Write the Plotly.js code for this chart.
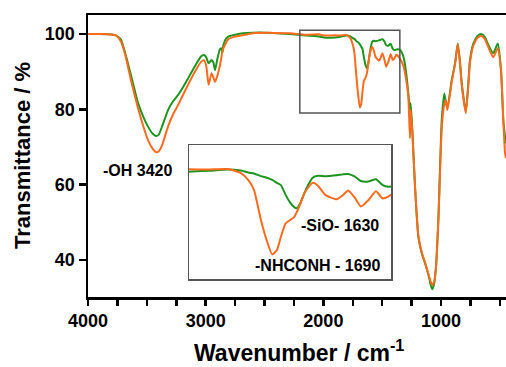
<!DOCTYPE html>
<html>
<head>
<meta charset="utf-8">
<script src="https://cdn.plot.ly/plotly-3.0.1.min.js"></script>
<style>html,body{margin:0;padding:0;background:#fff;}#chart{width:506px;height:367px;}</style>
</head>
<body>
<div id="chart"></div>
<script>
// Wavenumber (cm^-1)
const wavenumber = [4000,3900,3800,3760,3720,3680,3632,3575,3530,3490,3450,3422,3400,3370,3320,3280,3235,3190,3150,3100,3040,3014,2995,2975,2950,2935,2920,2900,2880,2868,2858,2850,2830,2808,2750,2683,2600,2428,2283,2150,2028,2000,1900,1852,1802,1769,1750,1736,1719,1705,1690,1678,1668,1656,1645,1635,1628,1618,1610,1597,1587,1575,1556,1527,1512,1498,1481,1466,1447,1428,1411,1397,1380,1349,1320,1306,1290,1278,1264,1258,1244,1221,1193,1164,1136,1107,1085,1074,1060,1045,1023,994,972,960,946,909,881,858,840,824,790,770,754,725,690,660,630,598,556,518,490,471,456,448];
// Transmittance (%) - green sample
const greenT = [100.0,100.0,99.9,99.6,98.5,94.5,88.7,81.7,78.0,75.4,73.5,72.9,73.2,75.5,79.8,82.0,83.8,86.0,88.2,91.0,94.0,94.4,93.8,92.2,93.1,92.5,90.4,93.5,95.9,96.2,95.0,97.0,98.6,99.3,99.8,100.2,100.35,100.3,100.0,99.6,99.3,99.1,99.1,99.3,99.6,99.35,98.9,98.7,98.1,97.8,97.25,96.6,96.1,93.9,92.2,91.2,90.9,92.2,94.0,96.5,97.8,98.2,98.1,98.3,98.5,98.6,98.0,97.0,96.9,97.4,96.1,95.7,95.9,95.8,94.0,91.8,88.0,84.2,80.0,81.6,74.5,59.4,46.2,41.8,39.1,36.0,33.0,32.2,33.5,37.3,50.6,77.2,84.2,82.0,80.3,87.8,92.2,97.5,93.0,86.9,79.4,86.0,93.1,97.5,99.5,100.0,99.3,97.1,94.9,97.5,90.4,77.2,72.7,71.0];
// Transmittance (%) - orange sample
const orangeT = [100.0,100.0,99.9,99.6,98.0,94.0,87.3,80.3,75.5,71.8,69.5,68.6,68.8,70.5,75.4,78.5,81.1,84.0,86.5,89.5,92.6,93.0,91.5,86.5,89.6,88.5,87.3,89.0,91.5,93.5,95.5,96.2,97.5,98.6,99.3,99.7,100.2,100.3,100.2,99.8,99.9,99.6,99.65,99.6,99.7,98.8,97.2,95.0,88.5,84.0,80.5,81.5,84.5,87.5,88.2,88.9,90.0,92.1,94.0,95.8,96.6,96.0,93.9,92.9,93.8,94.9,93.2,91.3,92.7,94.7,93.1,93.5,94.5,93.5,91.5,89.6,86.5,83.3,72.3,79.8,74.0,59.4,46.5,42.0,39.3,36.2,34.0,33.3,34.0,37.3,50.0,75.0,81.5,82.5,79.8,87.3,92.0,97.3,92.5,86.5,79.0,85.5,92.5,97.0,99.0,99.5,98.8,96.5,93.8,96.2,90.0,77.2,68.3,67.0];

const GREEN = '#1c951f';
const ORANGE = '#ff6a1c';
const FONT = 'Liberation Sans, Arial, sans-serif';

function line(y, color, xa, ya) {
  return {x: wavenumber, y: y, xaxis: xa, yaxis: ya, type: 'scatter', mode: 'lines',
    line: {color: color, width: 2, shape: 'spline', smoothing: 0.5}, hoverinfo: 'skip', showlegend: false};
}

const data = [
  line(greenT, GREEN, 'x', 'y'),
  line(orangeT, ORANGE, 'x', 'y'),
  line(greenT, GREEN, 'x2', 'y2'),
  line(orangeT, ORANGE, 'x2', 'y2')
];

const L = 88, R = 506, T = 15, B = 297;
const px = v => (v - L) / (R - L);
const py = v => (B - v) / (B - T);

const layout = {
  width: 506, height: 367,
  margin: {l: 88, r: 0, t: 15, b: 70},
  paper_bgcolor: '#fff', plot_bgcolor: '#fff',
  showlegend: false,
  font: {family: FONT, color: '#000'},
  xaxis: {
    range: [4000, 448], tickvals: [4000, 3000, 2000, 1000],
    ticks: 'outside', ticklen: 6, tickwidth: 2.5, tickcolor: '#000',
    minor: {dtick: 250, ticks: 'outside', ticklen: 6, tickwidth: 2.5, tickcolor: '#000'},
    showline: true, linewidth: 2.5, linecolor: '#000', mirror: true,
    showgrid: false, zeroline: false,
    tickfont: {family: FONT, size: 18, weight: 'bold', color: '#000'}
  },
  yaxis: {
    range: [30.15, 105.05], tickvals: [40, 60, 80, 100],
    ticks: 'outside', ticklen: 7, tickwidth: 2.5, tickcolor: '#000',
    showline: true, linewidth: 2.5, linecolor: '#000',
    showgrid: false, zeroline: false,
    tickfont: {family: FONT, size: 18, weight: 'bold', color: '#000'}
  },
  xaxis2: {
    domain: [px(189), px(391)], anchor: 'y2', range: [1900, 1390],
    showticklabels: false, ticks: '', showgrid: false, zeroline: false,
    showline: true, mirror: true, linecolor: '#555', linewidth: 1.5
  },
  yaxis2: {
    domain: [py(279), py(145)], anchor: 'x2', range: [75, 105.1],
    showticklabels: false, ticks: '', showgrid: false, zeroline: false,
    showline: true, mirror: true, linecolor: '#555', linewidth: 1.5
  },
  shapes: [
    {type: 'rect', xref: 'x', yref: 'y', x0: 2200, x1: 1350, y0: 79, y1: 101,
     line: {color: '#555', width: 1.5}, fillcolor: 'rgba(0,0,0,0)'}
  ],
  annotations: [
    {text: 'Transmittance / %', xref: 'paper', yref: 'paper', x: px(22), y: py(156),
     textangle: -90, showarrow: false, xanchor: 'center', yanchor: 'middle',
     font: {family: FONT, size: 22, weight: 'bold', color: '#000'}},
    {text: 'Wavenumber / cm<sup>-1</sup>', xref: 'paper', yref: 'paper', x: px(299), y: py(351),
     showarrow: false, xanchor: 'center', yanchor: 'middle',
     font: {family: FONT, size: 23, weight: 'bold', color: '#000'}},
    {text: '-OH 3420', xref: 'paper', yref: 'paper', x: px(137), y: py(170),
     showarrow: false, xanchor: 'center', yanchor: 'middle',
     font: {family: FONT, size: 16, weight: 'bold', color: '#000'}},
    {text: '-SiO- 1630', xref: 'paper', yref: 'paper', x: px(340), y: py(225),
     showarrow: false, xanchor: 'center', yanchor: 'middle',
     font: {family: FONT, size: 16, weight: 'bold', color: '#000'}},
    {text: '-NHCONH - 1690', xref: 'paper', yref: 'paper', x: px(317), y: py(265),
     showarrow: false, xanchor: 'center', yanchor: 'middle',
     font: {family: FONT, size: 16, weight: 'bold', color: '#000'}}
  ]
};

Plotly.newPlot('chart', data, layout, {staticPlot: true, displayModeBar: false});
</script>
</body>
</html>
